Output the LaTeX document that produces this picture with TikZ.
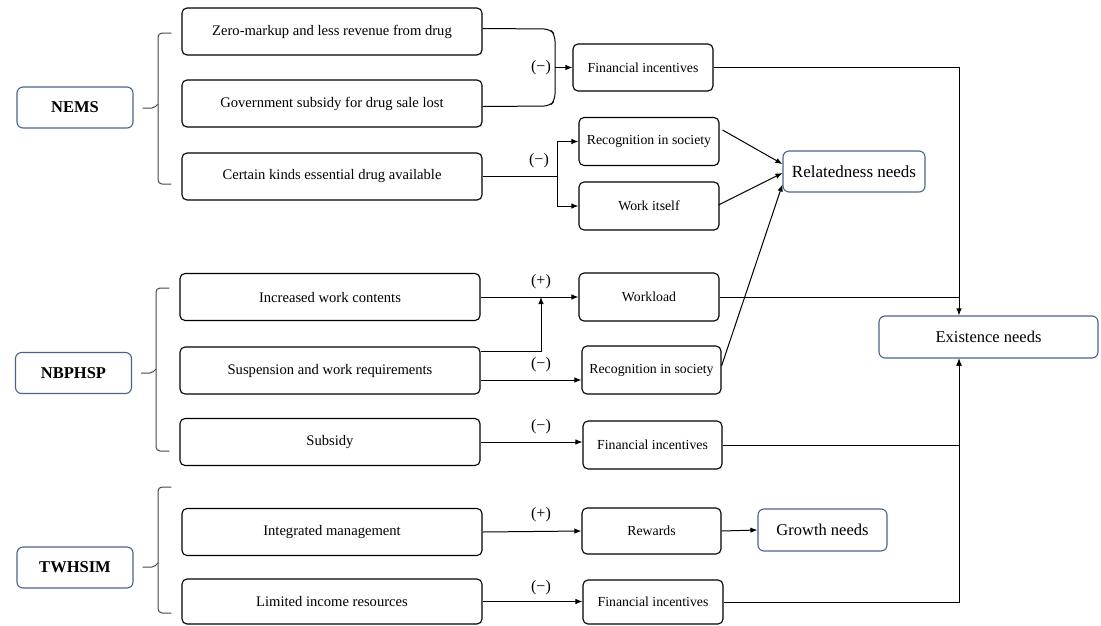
\documentclass[tikz,border=0pt]{standalone}
\usepackage{fontspec}
\setmainfont{Liberation Serif}
\usetikzlibrary{arrows.meta,calc}
\definecolor{needblue}{RGB}{72,100,140}
\definecolor{brk}{RGB}{70,70,70}
\tikzset{
  lbox/.style={draw, rounded corners=5pt, line width=1.1pt, minimum width=300pt, minimum height=47pt, inner sep=0pt, font=\fontsize{14.6}{17}\selectfont},
  rbox/.style={draw, rounded corners=5pt, line width=1.1pt, minimum width=140pt, minimum height=47pt, inner sep=0pt, font=\fontsize{13.8}{16}\selectfont},
  src/.style={draw=needblue, rounded corners=6pt, line width=1.1pt, minimum width=116pt, minimum height=41pt, inner sep=0pt, font=\fontsize{16.5}{19}\selectfont\bfseries},
  need/.style={draw=needblue, rounded corners=6pt, line width=1.1pt, minimum height=41pt, inner sep=0pt, font=\fontsize{16.5}{19}\selectfont},
  conn/.style={line width=1pt},
  arr/.style={line width=1pt, -{Latex[length=7pt,width=5.5pt]}},
  brace/.style={line width=1pt, draw=brk, rounded corners=4pt},
  sign/.style={font=\fontsize{16}{18}\selectfont, inner sep=0pt}
}
\begin{document}
\begin{tikzpicture}[x=1pt,y=-1pt]
\useasboundingbox (0,0) rectangle (1101,625);
% sources
\node[src] (nems) at (75,107.5) {NEMS};
\node[src] (nbp) at (73.5,373) {NBPHSP};
\node[src] (tw) at (75,567.5) {TWHSIM};
% left boxes
\node[lbox] (z1) at (332,31.5) {Zero-markup and less revenue from drug};
\node[lbox] (g1) at (332,103.5) {Government subsidy for drug sale lost};
\node[lbox] (c1) at (332,176.5) {Certain kinds essential drug available};
\node[lbox] (iw) at (330,297) {Increased work contents};
\node[lbox] (sw) at (330,370.5) {Suspension and work requirements};
\node[lbox] (sub) at (330,442) {Subsidy};
\node[lbox] (im) at (332,532) {Integrated management};
\node[lbox, minimum height=45pt] (li) at (332,601.5) {Limited income resources};
% right boxes
\node[rbox] (fi1) at (643,67.5) {Financial incentives};
\node[rbox, minimum height=48pt] (rs1) at (649,141.5) {Recognition in society};
\node[rbox, minimum height=48pt] (wi1) at (649,206) {Work itself};
\node[rbox, minimum height=48pt] (wl) at (649,297) {Workload};
\node[rbox, minimum height=48pt, minimum width=139pt] (rs2) at (651.5,370) {Recognition in society};
\node[rbox, minimum height=48pt, minimum width=139pt] (fi2) at (652.5,445) {Financial incentives};
\node[rbox, minimum height=46pt, minimum width=139pt] (rw) at (651.5,531) {Rewards};
\node[rbox, minimum height=44pt] (fi3) at (653,602) {Financial incentives};
% needs
\node[need, minimum width=142pt, font=\fontsize{17}{20}\selectfont] (rel) at (854,171.5) {Relatedness needs};
\node[need, minimum width=219pt, minimum height=42pt] (ex) at (988.5,337) {Existence needs};
\node[need, minimum width=129pt, minimum height=42pt] (gr) at (822.5,530) {Growth needs};
% braces
\draw[brace] ($(z1.west)+(-10,1.5)$) -- (158,33) -- (158,184) -- ($(c1.west)+(-10,7.5)$);
\draw[brace, rounded corners=2pt] ($(nems.east)+(9,0.5)$) -- (154,108) -- (158,104);
\draw[brace] ($(iw.west)+(-10,-9)$) -- (156,288) -- (156,451) -- ($(sub.west)+(-10,9)$);
\draw[brace, rounded corners=2pt] ($(nbp.east)+(9,0)$) -- (152,373) -- (156,369);
\draw[brace] ($(im.west)+(-10,-45)$) -- (158,487) -- (158,613) -- ($(li.west)+(-10,11.5)$);
\draw[brace, rounded corners=2pt] ($(tw.east)+(9,-0.5)$) -- (154,567) -- (158,563);
% NEMS connectors
\coordinate (b1) at (555,67.5);
\draw[conn, rounded corners=6pt] ($(z1.east)+(0,-3)$) -- (550,29) -- (555,35) -- (555,100) -- (550,106) -- ($(g1.east)+(0,3)$);
\draw[arr] (b1) -- (fi1.west);
\node[sign] at (541,67.5) {(−)};
\coordinate (b2) at (557,176.5);
\draw[conn] (c1.east) -- (b2);
\draw[arr] (b2) |- (rs1.west);
\draw[arr] (b2) |- (wi1.west);
\node[sign] at (539,161) {(−)};
\draw[arr] ($(rs1.east)+(3,-11.5)$) -- ($(rel.west)+(0,-7.5)$);
\draw[arr] ($(wi1.east)+(-1,-1)$) -- ($(rel.west)+(0,1.5)$);
\draw[arr] ($(rs2.east)+(0,-4)$) -- ($(rel.west)+(0,13)$);
% NBPHSP connectors
\coordinate (vx) at (959,0);
\draw[arr] (iw.east) -- (wl.west);
\node[sign] at (541,282) {(+)};
\coordinate (swa) at ($(sw.east)+(0,-19.5)$);
\coordinate (swm) at (541,297);
\draw[arr] (swa) -| (swm);
\coordinate (swb) at ($(sw.east)+(0,9.5)$);
\draw[arr] (swb) -- (rs2.west |- swb);
\node[sign] at (541,365) {(−)};
\draw[arr] (sub.east) -- (fi2.west |- sub.east);
\node[sign] at (541,427) {(−)};
% existence
\draw[arr] (fi1.east) -| (vx |- ex.north);
\draw[conn] (wl.east) -- (vx |- wl.east);
\draw[arr] (fi2.east) -| (vx |- ex.south);
\draw[arr] (fi3.east) -| (vx |- ex.south);
% TWHSIM connectors
\draw[arr] (im.east) -- (rw.west);
\node[sign] at (541,515) {(+)};
\draw[arr] (li.east) -- (fi3.west |- li.east);
\node[sign] at (541,588) {(−)};
\draw[arr] (rw.east) -- (gr.west);
\end{tikzpicture}
\end{document}
